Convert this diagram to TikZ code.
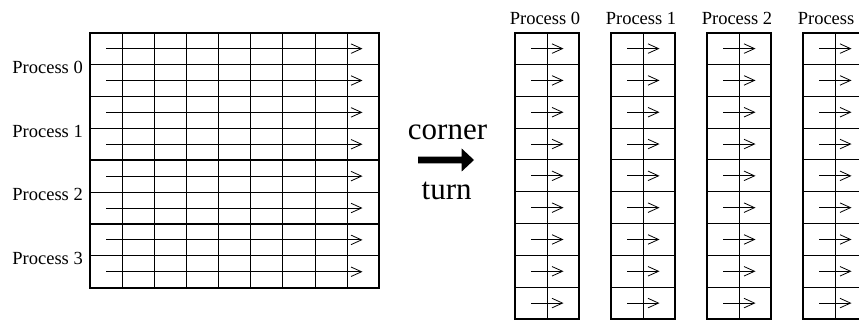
\documentclass[tikz,border=0pt]{standalone}
\usepackage{fontspec}
\setmainfont{Liberation Serif}
\usetikzlibrary{arrows.meta}
\begin{document}
\begin{tikzpicture}[x=1pt,y=-1pt,
  thingrid/.style={line width=0.9pt},
  thickgrid/.style={line width=1.8pt},
  flow/.style={line width=0.8pt,
    -{Straight Barb[length=10.5pt,width=9.5pt,line width=0.8pt]}},
  plabel/.style={font=\fontsize{18.5}{20}\selectfont, inner sep=0pt},
  biglabel/.style={font=\fontsize{31}{33}\selectfont, inner sep=0pt},
  ]
\useasboundingbox (0,0) rectangle (859,320);
\begin{scope}
  \clip (0,0) rectangle (859,320);

  % ---- row-distributed matrix: 8 rows x 9 columns, 2 rows per process ----
  \pgfmathsetmacro{\cw}{(379.3-90)/9}
  \pgfmathsetmacro{\ch}{(287.7-32.7)/8}
  \foreach \i in {1,...,8}
    \draw[thingrid] ({90+\i*\cw},32.7) -- ({90+\i*\cw},287.7);
  \foreach \i in {1,3,5,7}
    \draw[thingrid] (90,{32.7+\i*\ch}) -- (379.3,{32.7+\i*\ch});
  \foreach \i in {2,4,6}
    \draw[thickgrid] (90,{32.7+\i*\ch}) -- (379.3,{32.7+\i*\ch});
  \draw[thickgrid] (90,32.7) rectangle (379.3,287.7);
  \foreach \r in {0,...,7} {
    \coordinate (rs\r) at (106,{32.7+(\r+0.5)*\ch});
    \coordinate (re\r) at (362.5,{32.7+(\r+0.5)*\ch});
    \draw[flow] (rs\r) -- (re\r);
  }
  \foreach \k in {0,...,3}
    \node[plabel, anchor=base east] (lp\k) at (83,{32.7+(2*\k+1)*\ch+8.7}) {Process \k};

  % ---- corner turn ----
  \node[biglabel, anchor=base] (corner) at (447.5,140) {corner};
  \node[biglabel, anchor=base] (turn) at (446.7,200) {turn};
  \fill (418,156.6) -- (461.7,156.6) -- (461.7,148.5) -- (474,160)
        -- (461.7,171.5) -- (461.7,163.4) -- (418,163.4) -- cycle;

  % ---- column-distributed matrix: 9 rows x 2 columns per process ----
  \pgfmathsetmacro{\rh}{(319-32.7)/9}
  \foreach \x [count=\k from 0] in {515,611,707,803} {
    \foreach \i in {1,...,8}
      \draw[thingrid] (\x,{32.7+\i*\rh}) -- ({\x+64},{32.7+\i*\rh});
    \draw[thingrid] ({\x+32},32.7) -- ({\x+32},319);
    \draw[thickgrid] (\x,32.7) rectangle ({\x+64},319);
    \foreach \r in {0,...,8} {
      \coordinate (cs\k\r) at ({\x+16},{32.7+(\r+0.5)*\rh});
      \coordinate (ce\k\r) at ({\x+48.5},{32.7+(\r+0.5)*\rh});
      \draw[flow] (cs\k\r) -- (ce\k\r);
    }
    \node[plabel, anchor=base] (tp\k) at ({\x+30},25) {Process \k};
  }
\end{scope}
\end{tikzpicture}
\end{document}
